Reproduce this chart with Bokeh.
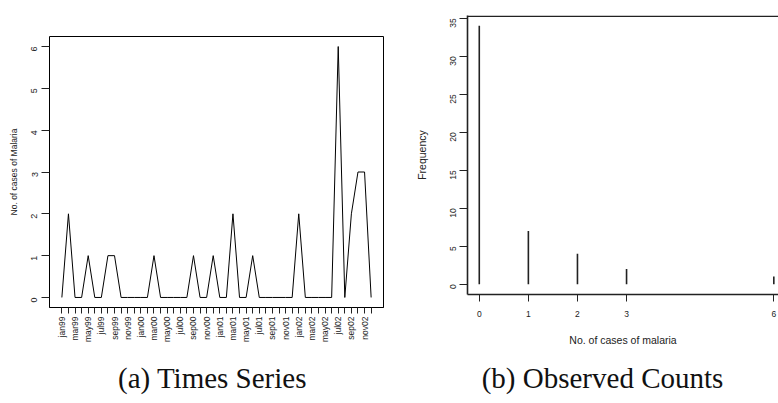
import math
from bokeh.plotting import figure
from bokeh.layouts import row, column
from bokeh.models import FixedTicker, Range1d, Span
from bokeh.core.properties import value
from bokeh.embed import file_html
from bokeh.resources import INLINE

# ---------------- data ----------------
month_labels = [
    "jan99", "feb99", "mar99", "apr99", "may99", "jun99", "jul99", "aug99", "sep99", "oct99", "nov99", "dec99",
    "jan00", "feb00", "mar00", "apr00", "may00", "jun00", "jul00", "aug00", "sep00", "oct00", "nov00", "dec00",
    "jan01", "feb01", "mar01", "apr01", "may01", "jun01", "jul01", "aug01", "sep01", "oct01", "nov01", "dec01",
    "jan02", "feb02", "mar02", "apr02", "may02", "jun02", "jul02", "aug02", "sep02", "oct02", "nov02", "dec02",
]
cases = [0, 2, 0, 0, 1, 0, 0, 1, 1, 0, 0, 0,
         0, 0, 1, 0, 0, 0, 0, 0, 1, 0, 0, 1,
         0, 0, 2, 0, 0, 1, 0, 0, 0, 0, 0, 0,
         2, 0, 0, 0, 0, 0, 6, 0, 2, 3, 3, 0]
y_ticks_a = [0, 1, 2, 3, 4, 5, 6]

count_values = [0, 1, 2, 3, 6]
count_freq = [34, 7, 4, 2, 1]
y_ticks_b = [0, 5, 10, 15, 20, 25, 30, 35]

captions = ["(a) Times Series", "(b) Observed Counts"]

SANS = "Liberation Sans"
SERIF = "Liberation Serif"


def style_axis(ax, font_size, standoff, tick_out, line_color, line_width, orientation=None):
    ax.major_label_text_font = SANS
    ax.major_label_text_font_size = font_size
    ax.major_label_text_color = "#222222"
    ax.major_label_standoff = standoff
    ax.major_tick_out = tick_out
    ax.major_tick_in = 0
    ax.minor_tick_line_color = None
    ax.axis_line_color = line_color
    ax.axis_line_width = line_width
    ax.major_tick_line_color = "#222222"
    ax.major_tick_line_width = 1
    if orientation is not None:
        ax.major_label_orientation = orientation


def style_title(ax, text, size, standoff):
    ax.axis_label = text
    ax.axis_label_text_font = SANS
    ax.axis_label_text_font_size = size
    ax.axis_label_text_font_style = "normal"
    ax.axis_label_text_color = "#222222"
    ax.axis_label_standoff = standoff


MAIN_H = 358
CAP_H = 45

# ---------------- panel (a) ----------------
n = len(cases)
xa = list(range(n))
xa0, xa1 = -0.04 * (n - 1), (n - 1) * 1.04
ya0, ya1 = -0.24, 6.24

p1 = figure(width=400, height=MAIN_H, x_range=Range1d(xa0, xa1), y_range=Range1d(ya0, ya1),
            output_backend="svg", toolbar_location=None, title_location=None,
            min_border_left=49, min_border_right=17, min_border_top=36,
            min_border_bottom=MAIN_H - 36 - 271)
p1.frame_align = False
p1.line(xa, cases, line_color="black", line_width=1)
p1.grid.visible = False
p1.outline_line_color = "black"
p1.outline_line_width = 1

xax = p1.below[0]
xax.ticker = FixedTicker(ticks=xa)
xax.major_label_overrides = {i: (month_labels[i] if i % 2 == 0 else "") for i in xa}
style_axis(xax, "8.5px", 3, 6, "black", 1, math.pi / 2)

yax = p1.left[0]
yax.ticker = FixedTicker(ticks=y_ticks_a)
style_axis(yax, "9px", 7, 8, None, 1, math.pi / 2)
style_title(yax, "No. of cases of Malaria", "8.5px", 7)

# ---------------- panel (b) ----------------
xb0 = -0.24
yb0, yb1 = -1.36, 35.36
px_per_unit = 318.1 / 6.48
xb1 = xb0 + 311 / px_per_unit
frame_h_b = 279

p2 = figure(width=378, height=MAIN_H, x_range=Range1d(xb0, xb1), y_range=Range1d(yb0, yb1),
            output_backend="svg", toolbar_location=None, title_location=None,
            min_border_left=67, min_border_right=0, min_border_top=15,
            min_border_bottom=MAIN_H - 15 - frame_h_b)
p2.frame_align = False
p2.segment(x0=count_values, y0=[0] * len(count_values), x1=count_values, y1=count_freq,
           line_color="#222222", line_width=1.6)
p2.grid.visible = False
p2.outline_line_color = None

# top border of the box (right side is cut off in the reference)
p2.add_layout(Span(location=yb1 - 0.8 * (yb1 - yb0) / frame_h_b, dimension="width",
                   line_color="#222222", line_width=1.6))

bx = p2.below[0]
bx.ticker = FixedTicker(ticks=count_values)
style_axis(bx, "8.5px", 9, 7, "#222222", 1.6)
style_title(bx, "No. of cases of malaria", "10.5px", 14)

by = p2.left[0]
by.ticker = FixedTicker(ticks=y_ticks_b)
style_axis(by, "8.5px", 6, 8, "#222222", 1.6, math.pi / 2)
style_title(by, "Frequency", "10.5px", 17)

# ---------------- captions ----------------
def caption_fig(width, text, cx, cy):
    c = figure(width=width, height=CAP_H, x_range=Range1d(0, 1), y_range=Range1d(0, 1),
               output_backend="svg", toolbar_location=None, title_location=None,
               x_axis_type=None, y_axis_type=None, min_border=0)
    c.frame_align = False
    c.outline_line_color = None
    c.grid.visible = False
    c.text(x=[cx], y=[cy], text=[text], text_font=value(SERIF), text_font_size="29px",
           text_align="center", text_baseline="middle", text_color="#111111")
    return c

cap_y = 1 - (377 - MAIN_H) / CAP_H
c1 = caption_fig(400, captions[0], 212 / 400, cap_y)
c2 = caption_fig(378, captions[1], 202 / 378, cap_y)

layout = column(row(p1, p2, spacing=0), row(c1, c2, spacing=0), spacing=0)
open("out.html", "w").write(file_html(layout, INLINE))
